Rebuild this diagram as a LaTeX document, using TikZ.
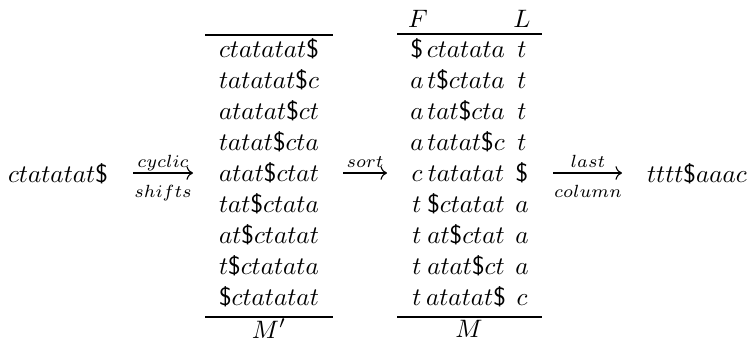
\documentclass[tikz,border=0pt]{standalone}
\usepackage{fontspec}
\usetikzlibrary{arrows.meta}
\newcommand{\dol}{\mbox{\sffamily\$}}
\begin{document}
\begin{tikzpicture}[x=0.3968pt,y=-0.3968pt,
  txt/.style={inner sep=0pt, anchor=base},
  lbl/.style={inner sep=0pt, anchor=base, font=\scriptsize},
  rulel/.style={line width=0.45pt},
  arr/.style={-{Computer Modern Rightarrow}, line width=0.45pt}]
\useasboundingbox (0,0) rectangle (751,343);
% input word
\node[txt] (w) at (58,182) {$ctatatat\dol$};
% arrow 1
\coordinate (a1s) at (133,173);
\coordinate (a1e) at (193,173);
\draw[arr] (a1s) -- (a1e);
\node[lbl] (cyc) at (163,167) {$cyclic$};
\node[lbl] (shf) at (163,197) {$shifts$};
% M' matrix
\draw[rulel] (205,35) -- (333,35);
\draw[rulel] (205,317) -- (333,317);
\foreach \s [count=\i] in {
  {ctatatat\dol},{tatatat\dol c},{atatat\dol ct},{tatat\dol cta},{atat\dol ctat},
  {tat\dol ctata},{at\dol ctatat},{t\dol ctatata},{\dol ctatatat}}
  \node[txt] (mp\i) at (269,{57+31.1*(\i-1)}) {$\s$};
\node[txt] (mpl) at (269,338) {$M'$};
% arrow 2
\coordinate (a2s) at (343,173);
\coordinate (a2e) at (387,173);
\draw[arr] (a2s) -- (a2e);
\node[lbl] (srt) at (365,167) {$sort$};
% M matrix
\node[txt] (F) at (418,27) {$F$};
\node[txt] (L) at (522,27) {$L$};
\draw[rulel] (397,34) -- (542,34);
\draw[rulel] (397,317) -- (542,317);
\foreach \f/\m/\l [count=\i] in {
  \dol/ctatata/t, a/t\dol ctata/t, a/tat\dol cta/t, a/tatat\dol c/t, c/tatatat/\dol,
  t/\dol ctatat/a, t/at\dol ctat/a, t/atat\dol ct/a, t/atatat\dol/c}
{
  \node[txt] (f\i) at (417,{57+31.1*(\i-1)}) {$\f$};
  \node[txt] (m\i) at (466,{57+31.1*(\i-1)}) {$\m$};
  \node[txt] (l\i) at (522,{57+31.1*(\i-1)}) {$\l$};
}
\node[txt] (ml) at (469,337) {$M$};
% arrow 3
\coordinate (a3s) at (553,173);
\coordinate (a3e) at (622,173);
\draw[arr] (a3s) -- (a3e);
\node[lbl] (lst) at (588,167) {$last$};
\node[lbl] (col) at (588,197) {$column$};
% output
\node[txt] (out) at (697,182) {$tttt\dol aaac$};
\end{tikzpicture}
\end{document}
